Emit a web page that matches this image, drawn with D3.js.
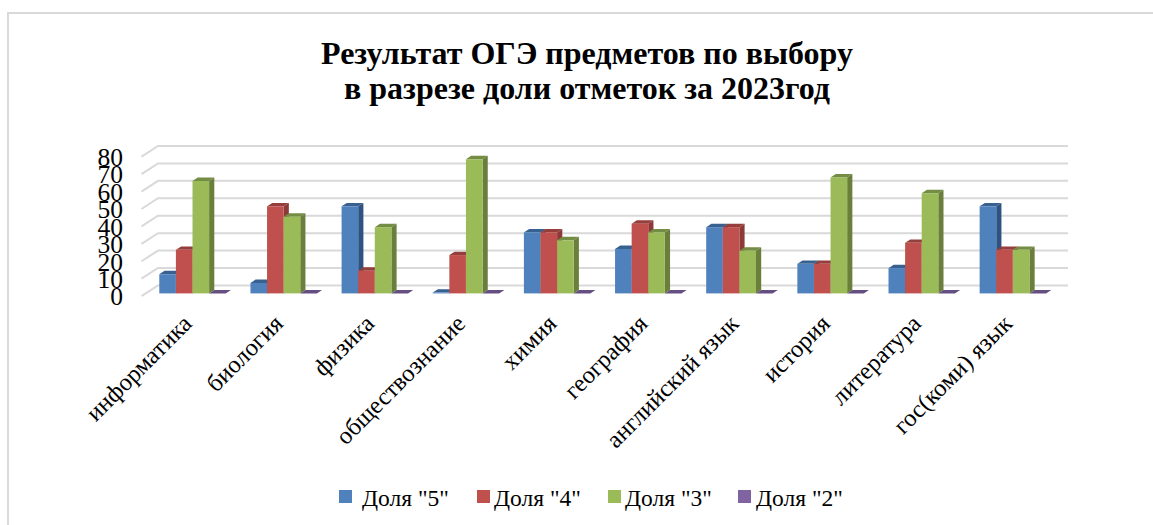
<!DOCTYPE html>
<html>
<head>
<meta charset="utf-8">
<script src="https://cdn.jsdelivr.net/npm/d3@7"></script>
<style>
  html, body { margin: 0; background: #fff; }
  svg { display: block; }
  text { font-family: "Liberation Serif", serif; fill: #000; }
</style>
</head>
<body>
<svg id="chart" width="1153" height="525"></svg>
<script>
const titleLines = ["Результат ОГЭ предметов по выбору", "в разрезе доли отметок за 2023год"];
const subjects = ["информатика", "биология", "физика", "обществознание", "химия", "география", "английский язык", "история", "литература", "гос(коми) язык"];
const seriesNames = ['Доля "5"', 'Доля "4"', 'Доля "3"', 'Доля "2"'];
const share5 = [11, 6, 50, 0.5, 35, 25.5, 38, 17, 14.5, 50];
const share4 = [25, 50, 13, 22, 35, 40, 38, 17, 29, 25];
const share3 = [64.5, 44, 38, 77, 30.5, 35, 24.5, 66.5, 57.5, 25];
const share2 = [0, 0, 0, 0, 0, 0, 0, 0, 0, 0];
const yTicks = [0, 10, 20, 30, 40, 50, 60, 70, 80];

const seriesValues = [share5, share4, share3, share2];
const frontColors = ["#4f81bd", "#c0504d", "#9bbb59", "#8064a2"];
const sideColors = ["#2f5381", "#8c3a38", "#6a7f3b", "#5b4776"];
const topColors = ["#38618f", "#953e3b", "#748c43", "#654f82"];

const svg = d3.select("#chart");

// frame, only left and top edges are visible in the picture
svg.append("path")
    .attr("d", "M8 525V13H1153")
    .attr("fill", "none")
    .attr("stroke", "#d9d9d9")
    .attr("stroke-width", 2);

svg.append("g").selectAll("text")
    .data(titleLines)
    .enter()
    .append("text")
    .attr("x", 587)
    .attr("y", (d, i) => 64 + i * 35)
    .attr("text-anchor", "middle")
    .attr("font-size", 32)
    .attr("font-weight", "bold")
    .text(d => d);

// y scale is the back wall of the 3d box
const yBack = d3.scaleLinear().domain([0, 80]).range([285.4, 146]);
const floorDepth = { dx: 16.5, dy: 10.7 };

const grid = svg.append("g");
yTicks.forEach(t => {
    grid.append("path")
        .attr("d", `M${158 - floorDepth.dx} ${yBack(t) + floorDepth.dy}L158 ${yBack(t)}H1068`)
        .attr("fill", "none")
        .attr("stroke", "#d9d9d9")
        .attr("stroke-width", 2);
});

const yAxisGroup = svg.append("g");
yTicks.forEach(t => {
    yAxisGroup.append("text")
        .attr("x", 123)
        .attr("y", yBack(t) + 20)
        .attr("text-anchor", "end")
        .attr("font-size", 25.5)
        .text(t);
});

// bars
const x0 = d3.scaleBand().domain(subjects).range([159.3, 159.3 + 91.15 * subjects.length]).paddingInner(0).paddingOuter(0).align(0);
const x1 = d3.scaleBand().domain(seriesNames).range([0, 66.4]);
const barDx = 5.2, barDy = 3.4, barShift = 8;
const yBar = v => yBack(v) + barShift;

subjects.forEach((subject, i) => {
    const g = svg.append("g").attr("transform", `translate(${x0(subject)},0)`);
    seriesNames.forEach((name, s) => {
        const v = seriesValues[s][i];
        const left = x1(name), w = x1.bandwidth(), right = left + w;
        const top = yBar(v), base = yBar(0);
        // top face
        g.append("path")
            .attr("d", `M${left} ${top}L${left + barDx} ${top - barDy}H${right + barDx}L${right} ${top}Z`)
            .attr("fill", topColors[s]);
        if (v > 0) {
            // side face
            g.append("path")
                .attr("d", `M${right} ${top}L${right + barDx} ${top - barDy}V${base - barDy}L${right} ${base}Z`)
                .attr("fill", sideColors[s]);
            g.append("rect")
                .attr("x", left)
                .attr("y", top)
                .attr("width", w)
                .attr("height", base - top)
                .attr("fill", frontColors[s]);
        }
    });
});

// category labels
const labelGroup = svg.append("g");
subjects.forEach(subject => {
    const px = x0(subject) + 34;
    labelGroup.append("text")
        .attr("transform", `translate(${px},325) rotate(-45)`)
        .attr("text-anchor", "end")
        .attr("font-size", 24.5)
        .text(subject);
});

// legend
const legendSwatchX = [339, 477, 608, 738];
const legendTextX = [362, 494, 625, 756];
const legend = svg.append("g");
seriesNames.forEach((name, s) => {
    legend.append("rect")
        .attr("x", legendSwatchX[s])
        .attr("y", 490)
        .attr("width", 13)
        .attr("height", 13)
        .attr("fill", frontColors[s]);
    legend.append("text")
        .attr("x", legendTextX[s])
        .attr("y", 506)
        .attr("font-size", 23.5)
        .text(name);
});
</script>
</body>
</html>
